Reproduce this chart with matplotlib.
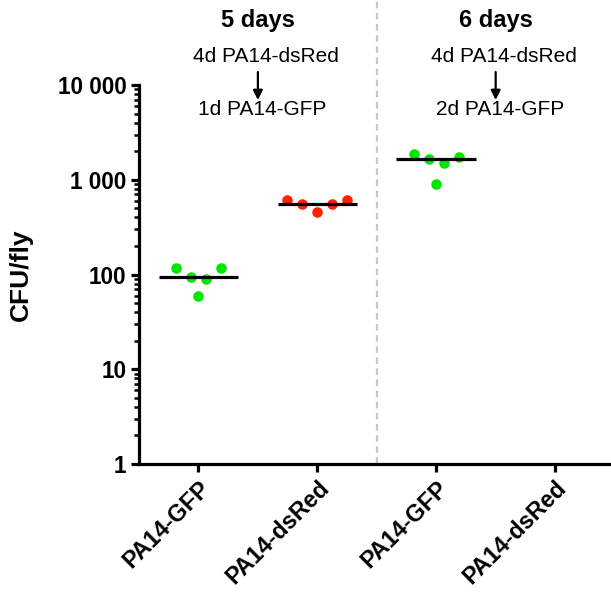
import matplotlib
matplotlib.use("Agg")
import matplotlib.pyplot as plt
import numpy as np
from matplotlib.ticker import LogLocator, FixedLocator, NullFormatter

plt.rcParams['font.family'] = ['Liberation Sans', 'DejaVu Sans']

# ---- data ----
categories = ["PA14-GFP", "PA14-dsRed", "PA14-GFP", "PA14-dsRed"]
gfp_5d = [116, 95, 89, 116, 60]
dsred_5d = [606, 555, 453, 555, 606]
gfp_6d = [1866, 1636, 1499, 1758, 907]
dsred_6d = []
series = [gfp_5d, dsred_5d, gfp_6d, dsred_6d]
series_colors = ["#00E600", "#FF2200", "#00E600", "#FF2200"]
panel_titles = ["5 days", "6 days"]
panel_top = ["4d PA14-dsRed", "4d PA14-dsRed"]
panel_bottom = ["1d PA14-GFP", "2d PA14-GFP"]
yticks = [1, 10, 100, 1000, 10000]
ytick_labels = ["1", "10", "100", "1 000", "10 000"]

# horizontal slot per point (layout of the scatter columns)
slots = [[-1.5, -0.5, 0.5, 1.5, 0], [-2, -1, 0, 1, 2], [-1.5, -0.5, 0.5, 1.5, 0], []]
slot_w = 0.126

W, H = 611, 592
fig = plt.figure(figsize=(W / 100, H / 100), dpi=100)
ax_l, ax_r, ax_b, ax_t = 139, 611, 464, 85
ax = fig.add_axes([ax_l / W, (H - ax_b) / H, (ax_r - ax_l) / W, (ax_b - ax_t) / H])

for i, (vals, col) in enumerate(zip(series, series_colors)):
    if len(vals) == 0:
        continue
    xs = i + np.array(slots[i]) * slot_w
    ax.plot(xs, vals, 'o', color=col, markersize=7.6, markeredgewidth=0, zorder=3, clip_on=False)
    med = np.median(vals)
    ax.hlines(med, i - 0.335, i + 0.335, color='black', linewidth=2.3, zorder=4)

ax.set_yscale('log')
ax.set_ylim(1, 10000)
ax.set_xlim(-0.5, 3.47)
ax.yaxis.set_major_locator(FixedLocator(yticks))
ax.set_yticklabels(ytick_labels)
ax.yaxis.set_minor_locator(LogLocator(base=10, subs=np.arange(2, 10)))
ax.yaxis.set_minor_formatter(NullFormatter())
ax.set_xticks(range(len(categories)))
ax.set_xticklabels(categories, rotation=45, ha='right', va='top', rotation_mode='anchor',
                   fontsize=16.8, fontweight='bold')

for lab in ax.get_yticklabels():
    lab.set_fontsize(16.3)
    lab.set_fontweight('bold')

ax.spines['top'].set_visible(False)
ax.spines['right'].set_visible(False)
ax.spines['left'].set_linewidth(2.3)
ax.spines['bottom'].set_linewidth(2.3)
ax.tick_params(axis='both', which='major', length=6, width=2.3, pad=3)
ax.tick_params(axis='y', which='minor', length=3.5, width=1.8)
ax.tick_params(axis='x', pad=3)

ax.set_ylabel("CFU/fly", fontsize=19, fontweight='bold', labelpad=18)

# separator
ax.axvline(1.5, ymin=0, ymax=(ax_b) / (ax_b - ax_t), color='#C8C8C8', linestyle=(0, (3, 2)),
           linewidth=1.6, clip_on=False, zorder=1)

# panel headers
trans = ax.get_xaxis_transform()
def fy(py):
    return (ax_b - py) / (ax_b - ax_t)

for k, cx in enumerate([0.5, 2.5]):
    ax.text(cx, fy(21), panel_titles[k], transform=trans, ha='center', va='center',
            fontsize=17, fontweight='bold', clip_on=False)
    ax.text(cx + 0.07, fy(57), panel_top[k], transform=trans, ha='center', va='center',
            fontsize=15, clip_on=False)
    ax.text(cx + 0.04, fy(110), panel_bottom[k], transform=trans, ha='center', va='center',
            fontsize=15, clip_on=False)
    ax.annotate("", xy=(cx, fy(100)), xytext=(cx, fy(72)), xycoords=trans, textcoords=trans,
                arrowprops=dict(arrowstyle='-|>', color='black', lw=1.6, mutation_scale=14,
                                shrinkA=0, shrinkB=0), annotation_clip=False)

fig.savefig("out.png", dpi=100, facecolor='white')
